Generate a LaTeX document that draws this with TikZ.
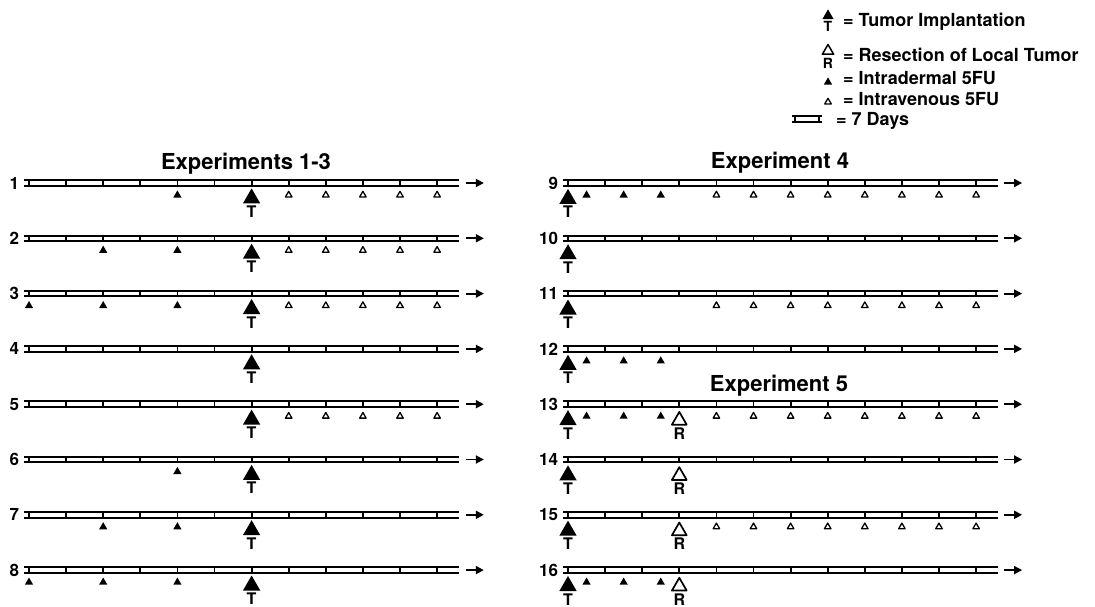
\documentclass[tikz,border=0pt]{standalone}
\usepackage{fontspec}
\setmainfont{TeX Gyre Heros}
\usetikzlibrary{shapes.geometric,arrows.meta,positioning}
\begin{document}
\begin{tikzpicture}[x=1pt,y=-1pt,
  rail/.style={line width=2pt,double,double distance=3.6pt},
  railtick/.style={line width=1.8pt},
  tumor/.style={regular polygon,regular polygon sides=3,fill,inner sep=0pt,minimum size=20pt,anchor=corner 1},
  resect/.style={regular polygon,regular polygon sides=3,draw,fill=white,line width=1.7pt,line join=round,inner sep=0pt,minimum size=17pt,anchor=corner 1},
  intrad/.style={regular polygon,regular polygon sides=3,fill,inner sep=0pt,minimum size=9.5pt,anchor=corner 1},
  intrav/.style={regular polygon,regular polygon sides=3,draw,line width=1.3pt,line join=round,inner sep=0pt,minimum size=7.5pt,anchor=corner 1},
  letter/.style={font=\fontsize{16}{16}\selectfont\bfseries,inner sep=0pt},
  rowlab/.style={font=\fontsize{17}{17}\selectfont\bfseries,anchor=east,inner sep=0pt,xshift=-5pt},
  title/.style={font=\fontsize{22}{24}\selectfont\bfseries,anchor=base,inner sep=0pt},
  legtext/.style={font=\fontsize{18}{20}\selectfont\bfseries,anchor=base west,inner sep=0pt},
  toarrow/.style={-{Triangle[length=8pt,width=8pt]},line width=1.8pt}]
\useasboundingbox (0,0) rectangle (1095,607);
% legend
\node[tumor,minimum size=13pt] (lt) at (828,9) {};
\node[letter,below=2pt of lt,font=\fontsize{14}{14}\selectfont\bfseries] (ltl) {T};
\node[resect,minimum size=13pt,line width=1.5pt] (lr) at (828,43) {};
\node[letter,below=3pt of lr,font=\fontsize{14}{14}\selectfont\bfseries] (lrl) {R};
\node[intrad] (ld) at (828,77) {};
\node[intrav] (lv) at (828,97) {};
\draw[rail] (792,119) -- (822,119);
\foreach \x in {795,819} \draw[railtick] (\x,115.2) -- (\x,122.8);
\node[legtext] (k1) at (843,27) {= Tumor Implantation};
\node[legtext] (k2) at (843,62) {= Resection of Local Tumor};
\node[legtext] (k3) at (843,85) {= Intradermal 5FU};
\node[legtext] (k4) at (843,105.5) {= Intravenous 5FU};
\node[legtext] (k5) at (836,126) {= 7 Days};
% titles
\node[title] (h1) at (246,170) {Experiments 1-3};
\node[title] (h2) at (780,168) {Experiment 4};
\node[title] (h3) at (779,391) {Experiment 5};
% experiments 1-3
\begin{scope}[shift={(29,127.7)},x=37.1pt,y=-55.3pt]
\foreach \r in {1,...,8}{
  \draw[rail] (-0.13,\r) -- (11.6,\r);
  \foreach \k in {0,...,11} \draw[railtick] ([yshift=3.8pt]\k,\r) -- ([yshift=-3.8pt]\k,\r);
  \node[rowlab] (n\r) at (-0.13,\r) {\r};
  \coordinate (s\r) at (11.78,\r);
  \coordinate (e\r) at (12.26,\r);
  \draw[toarrow] (s\r) -- (e\r);
  \node[tumor,yshift=-5pt] (t\r) at (6,\r) {};
  \node[letter,below=2pt of t\r] (tl\r) {T};
}
\foreach \r/\k in {1/4,2/2,2/4,3/0,3/2,3/4,6/4,7/2,7/4,8/0,8/2,8/4}
  \node[intrad,yshift=-7pt] (d\r-\k) at (\k,\r) {};
\foreach \r in {1,2,3,5} \foreach \k in {7,...,11}
  \node[intrav,yshift=-7pt] (v\r-\k) at (\k,\r) {};
\end{scope}
% experiments 4 and 5
\begin{scope}[shift={(568,-314.7)},x=37.1pt,y=-55.3pt]
\foreach \r in {9,...,16}{
  \draw[rail] (-0.13,\r) -- (11.6,\r);
  \foreach \k in {0,...,11} \draw[railtick] ([yshift=3.8pt]\k,\r) -- ([yshift=-3.8pt]\k,\r);
  \node[rowlab] (n\r) at (-0.13,\r) {\r};
  \coordinate (s\r) at (11.76,\r);
  \coordinate (e\r) at (12.24,\r);
  \draw[toarrow] (s\r) -- (e\r);
  \node[tumor,yshift=-5.5pt] (t\r) at (0,\r) {};
  \node[letter,below=2pt of t\r] (tl\r) {T};
}
\foreach \r in {9,12,13,16} \foreach[count=\i] \k in {0.5,1.5,2.5}
  \node[intrad,yshift=-7pt] (d\r-\i) at (\k,\r) {};
\foreach \r in {9,11,13,15} \foreach \k in {4,...,11}
  \node[intrav,yshift=-7pt] (v\r-\k) at (\k,\r) {};
\foreach \r in {13,...,16}{
  \node[resect,yshift=-6pt] (r\r) at (3,\r) {};
  \node[letter,below=2pt of r\r] (rl\r) {R};
}
\end{scope}
\end{tikzpicture}
\end{document}
